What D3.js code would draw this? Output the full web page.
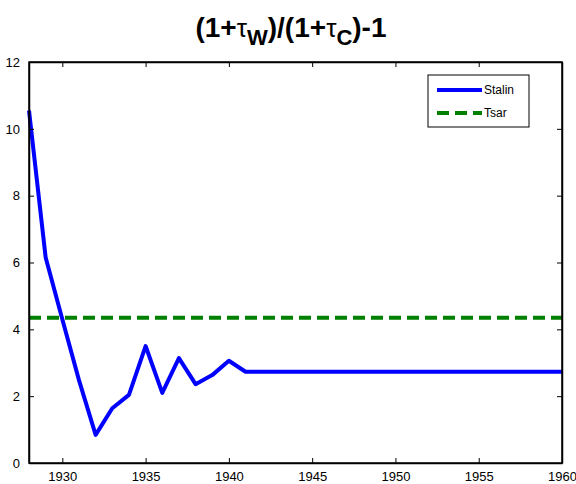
<!DOCTYPE html>
<html>
<head>
<meta charset="utf-8">
<script src="https://cdn.jsdelivr.net/npm/d3@7"></script>
<style>
  body { margin: 0; background: #fff; }
  text { font-family: Arial, "Liberation Sans", sans-serif; }
</style>
</head>
<body>
<div id="chart"></div>
<script>
const years = d3.range(1928, 1961);
const stalin = [10.55, 6.15, 4.3, 2.48, 0.84, 1.64, 2.04, 3.5, 2.1, 3.14, 2.36, 2.63, 3.06,
  2.73, 2.73, 2.73, 2.73, 2.73, 2.73, 2.73, 2.73, 2.73, 2.73, 2.73, 2.73, 2.73, 2.73,
  2.73, 2.73, 2.73, 2.73, 2.73, 2.73];
const tsar = 4.35;
const xTicks = [1930, 1935, 1940, 1945, 1950, 1955, 1960];
const yTicks = [0, 2, 4, 6, 8, 10, 12];

const W = 576, H = 484;
const margin = { top: 62, right: 14, bottom: 21, left: 29 };
const width = W - margin.left - margin.right,
  height = H - margin.top - margin.bottom;
const font = "Arial, 'Liberation Sans', sans-serif";

const svg = d3.select("#chart").append("svg")
  .attr("width", W).attr("height", H);

const x = d3.scaleLinear().domain([1928, 1960]).range([0, width]);
const y = d3.scaleLinear().domain([0, 12]).range([height, 0]);

const g = svg.append("g").attr("transform", `translate(${margin.left},${margin.top})`);

// title
const title = svg.append("text")
  .attr("x", 291).attr("y", 37)
  .attr("text-anchor", "middle")
  .style("font-family", font)
  .style("font-size", "28px").style("font-weight", "bold");
title.append("tspan").text("(1+");
title.append("tspan").text("τ").style("font-weight", "normal").style("font-size", "26px");
title.append("tspan").text("W").attr("dy", 8).style("font-size", "22px");
title.append("tspan").text(")/(1+").attr("dy", -8);
title.append("tspan").text("τ").style("font-weight", "normal").style("font-size", "26px");
title.append("tspan").text("C").attr("dy", 8).style("font-size", "22px");
title.append("tspan").text(")-1").attr("dy", -8);

// lines
const line = d3.line().x((d, i) => x(years[i])).y(d => y(d));
g.append("path").datum(stalin)
  .attr("d", line)
  .attr("fill", "none").attr("stroke", "#0000ff")
  .attr("stroke-width", 4).attr("stroke-linejoin", "round");

g.append("line")
  .attr("x1", x(1928)).attr("x2", x(1960))
  .attr("y1", y(tsar)).attr("y2", y(tsar))
  .attr("stroke", "#008000").attr("stroke-width", 4)
  .attr("stroke-dasharray", "12,6");

// axes with inward ticks on all sides
const tl = 5;
g.append("g").attr("transform", `translate(0,${height})`)
  .call(d3.axisBottom(x).tickValues(xTicks).tickFormat(d3.format("d")).tickSizeInner(-tl).tickSizeOuter(0).tickPadding(9));
g.append("g")
  .call(d3.axisTop(x).tickValues(xTicks).tickFormat("").tickSizeInner(-tl).tickSizeOuter(0));
g.append("g")
  .call(d3.axisLeft(y).tickValues(yTicks).tickSizeInner(-tl).tickSizeOuter(0).tickPadding(9));
g.append("g").attr("transform", `translate(${width},0)`)
  .call(d3.axisRight(y).tickValues(yTicks).tickFormat("").tickSizeInner(-tl).tickSizeOuter(0));

g.selectAll(".domain").attr("stroke", "#000").attr("stroke-width", 1.5);
g.selectAll(".tick line").attr("stroke", "#000");
g.selectAll(".tick text").style("font-size", "13px").style("font-family", font).attr("fill", "#000");

g.append("rect").attr("width", width).attr("height", height)
  .attr("fill", "none").attr("stroke", "#000").attr("stroke-width", 1.5);

// legend
const leg = svg.append("g").attr("transform", "translate(428,75)");
leg.append("rect").attr("width", 101).attr("height", 52)
  .attr("fill", "#fff").attr("stroke", "#000").attr("stroke-width", 1);
leg.append("line").attr("x1", 9).attr("x2", 54).attr("y1", 15).attr("y2", 15)
  .attr("stroke", "#0000ff").attr("stroke-width", 4);
leg.append("line").attr("x1", 9).attr("x2", 54).attr("y1", 38).attr("y2", 38)
  .attr("stroke", "#008000").attr("stroke-width", 4).attr("stroke-dasharray", "12,6");
leg.append("text").attr("x", 56).attr("y", 19).text("Stalin").style("font-size", "12px").style("font-family", font);
leg.append("text").attr("x", 56).attr("y", 42).text("Tsar").style("font-size", "12px").style("font-family", font);
</script>
</body>
</html>
